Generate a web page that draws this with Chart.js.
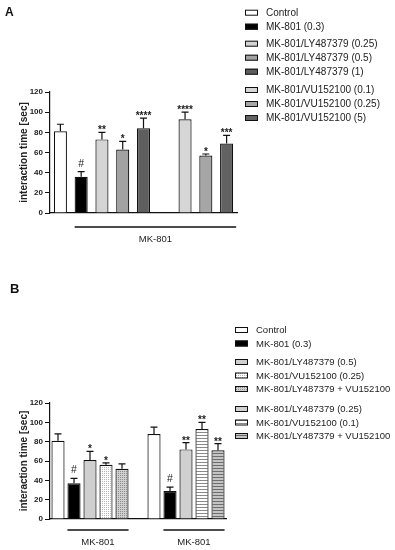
<!DOCTYPE html>
<html>
<head>
<meta charset="utf-8">
<script src="https://cdn.jsdelivr.net/npm/chart.js@4.4.1/dist/chart.umd.min.js"></script>
<style>
  html, body { margin: 0; padding: 0; background: #fff; }
  #wrap { position: relative; width: 395px; height: 550px; }
  canvas { position: absolute; left: 0; }
</style>
</head>
<body>
<div id="wrap">
  <canvas id="chartA" width="395" height="265" style="top:0"></canvas>
  <canvas id="chartB" width="395" height="285" style="top:265px"></canvas>
</div>
<script>
/* ===============================
   DATA
================================= */

// panel A
const catsA = ["Control", "MK-801 (0.3)", "MK-801/LY487379 (0.25)", "MK-801/LY487379 (0.5)",
  "MK-801/LY487379 (1)", " ", "MK-801/VU152100 (0.1)", "MK-801/VU152100 (0.25)", "MK-801/VU152100 (5)"];
const meansA = [81, 36, 73, 63, 84, null, 93, 57, 69];
const semA = [7, 5, 7, 8, 10, 0, 7, 1.5, 8];
const sigA = ["", "#", "**", "*", "****", "", "****", "*", "***"];
const legendA = [[0, 1], [2, 3, 4], [6, 7, 8]];
const groupsA = [{ label: "MK-801", from: 1, to: 8 }];

// panel B
const catsB = ["Control", "MK-801 (0.3)", "MK-801/LY487379 (0.5)", "MK-801/VU152100 (0.25)",
  "MK-801/LY487379 + VU152100", " ", "Control", "MK-801 (0.3)", "MK-801/LY487379 (0.25)",
  "MK-801/VU152100 (0.1)", "MK-801/LY487379 + VU152100"];
const meansB = [81, 37, 61, 56, 52, null, 88, 29, 72, 93, 71];
const semB = [7, 5, 9, 2, 5, 0, 7, 4, 7, 7, 7];
const sigB = ["", "#", "*", "*", "", "", "", "#", "**", "**", "**"];
const legendB = [[0, 1], [2, 3, 4], [8, 9, 10]];
const groupsB = [{ label: "MK-801", from: 1, to: 4 }, { label: "MK-801", from: 7, to: 10 }];

const yTicks = [0, 20, 40, 60, 80, 100, 120];

/* ===============================
   STYLE HELPERS
================================= */

const FONT = "'Liberation Sans', Arial, sans-serif";

function makePattern(bg, fg, kind) {
  const c = document.createElement("canvas");
  const g = c.getContext("2d");
  if (kind === "dots") {
    c.width = 2; c.height = 2;
    g.fillStyle = bg; g.fillRect(0, 0, 2, 2);
    g.fillStyle = fg; g.fillRect(0, 0, 1, 1);
  } else {
    c.width = 4; c.height = 3;
    g.fillStyle = bg; g.fillRect(0, 0, 4, 3);
    g.fillStyle = fg; g.fillRect(0, 2, 4, 1);
  }
  return g.createPattern(c, "repeat");
}

const fillsA = ["#ffffff", "#000000", "#d4d4d4", "#a2a2a2", "#5e5e5e", "#ffffff",
  "#d6d6d6", "#a6a6a6", "#626262"];

const fillsB = ["#ffffff", "#000000", "#cfcfcf",
  makePattern("#ffffff", "#b8b8b8", "dots"),
  makePattern("#d0d0d0", "#8c8c8c", "dots"),
  "#ffffff",
  "#ffffff", "#000000", "#d0d0d0",
  makePattern("#ffffff", "#8a8a8a", "lines"),
  makePattern("#c4c4c4", "#6e6e6e", "lines")];

/* ===============================
   EXTRAS PLUGIN (error bars, stars, legend, labels)
================================= */

const panelExtras = {
  id: "panelExtras",
  afterDatasetsDraw(chart, args, opts) {
    const { ctx, scales: { y } } = chart;
    const ds = chart.data.datasets[0];
    const meta = chart.getDatasetMeta(0);
    ctx.save();
    ctx.strokeStyle = "#111";
    ctx.lineWidth = 1.2;
    ctx.fillStyle = "#222";
    ctx.textAlign = "center";
    ds.data.forEach((v, i) => {
      if (v == null) return;
      const bx = meta.data[i].x;
      const yTop = y.getPixelForValue(v);
      const yCap = y.getPixelForValue(v + ds.sem[i]);
      ctx.beginPath();
      ctx.moveTo(bx, yTop);
      ctx.lineTo(bx, yCap);
      ctx.moveTo(bx - 3.5, yCap);
      ctx.lineTo(bx + 3.5, yCap);
      ctx.stroke();
      const s = ds.sig[i];
      if (s === "#") {
        ctx.font = "10.5px " + FONT;
        ctx.textBaseline = "alphabetic";
        ctx.fillText(s, bx, yCap - 5);
      } else if (s) {
        ctx.font = "bold 10px " + FONT;
        ctx.textBaseline = "alphabetic";
        ctx.fillText(s, bx, yCap + 1);
      }
    });
    ctx.restore();
  },
  afterDraw(chart, args, opts) {
    const { ctx, chartArea } = chart;
    const ds = chart.data.datasets[0];
    const meta = chart.getDatasetMeta(0);
    ctx.save();

    // panel letter
    ctx.fillStyle = "#111";
    ctx.font = "bold " + opts.letterSize + "px " + FONT;
    ctx.textAlign = "left";
    ctx.textBaseline = "alphabetic";
    ctx.fillText(opts.letter, opts.letterX, opts.letterY);

    // group lines under the axis
    ctx.strokeStyle = "#111";
    ctx.lineWidth = 1.3;
    ctx.fillStyle = "#222";
    ctx.font = "9.5px " + FONT;
    ctx.textAlign = "center";
    ctx.textBaseline = "middle";
    opts.groups.forEach(g => {
      const a = meta.data[g.from], b = meta.data[g.to];
      const x1 = a.x - a.width / 2;
      const x2 = b.x + b.width / 2 + opts.spanExtra;
      const ly = chartArea.bottom + opts.spanGap;
      ctx.beginPath();
      ctx.moveTo(x1, ly);
      ctx.lineTo(x2, ly);
      ctx.stroke();
      ctx.fillText(g.label, (x1 + x2) / 2, ly + 12.5);
    });

    // legend
    ctx.lineWidth = 1;
    ctx.textAlign = "left";
    ctx.font = opts.legendSize + "px " + FONT;
    opts.legend.forEach((grp, gi) => {
      grp.forEach((idx, k) => {
        const cy = opts.legendY[gi] + k * opts.legendRow;
        ctx.fillStyle = ds.backgroundColor[idx];
        ctx.fillRect(opts.legendX, cy - 3, 13, 6);
        ctx.strokeStyle = "#111";
        ctx.strokeRect(opts.legendX + 0.5, cy - 2.5, 12, 5);
        ctx.fillStyle = "#222";
        ctx.fillText(chart.data.labels[idx], opts.legendX + 21, cy + 0.5);
      });
    });
    ctx.restore();
  }
};

/* ===============================
   CHART BUILDER
================================= */

function buildPanel(canvasId, cats, means, sem, sig, fills, barPct, padding, extras) {
  return new Chart(document.getElementById(canvasId), {
    type: "bar",
    data: {
      labels: cats,
      datasets: [{
        data: means,
        sem: sem,
        sig: sig,
        backgroundColor: fills,
        borderColor: "#111",
        borderWidth: 1.2,
        barPercentage: barPct,
        categoryPercentage: 1
      }]
    },
    options: {
      responsive: false,
      animation: false,
      layout: { padding: padding },
      plugins: {
        legend: { display: false },
        tooltip: { enabled: false },
        panelExtras: extras
      },
      scales: {
        x: {
          grid: { display: false },
          ticks: { display: false },
          border: { display: true, color: "#111", width: 1.2 },
          afterFit(scale) { scale.height = 0; }
        },
        y: {
          min: 0,
          max: 120,
          afterBuildTicks(scale) { scale.ticks = yTicks.map(v => ({ value: v })); },
          ticks: {
            color: "#222",
            padding: 2,
            font: { family: FONT, size: 8, weight: "bold" }
          },
          grid: { drawOnChartArea: false, drawTicks: true, tickLength: 5, color: "#111" },
          border: { display: true, color: "#111", width: 1.2 },
          title: {
            display: true,
            text: "interaction time [sec]",
            color: "#222",
            font: { family: FONT, size: 10, weight: "bold" },
            padding: { top: 18, bottom: 0 }
          },
          afterFit(scale) { scale.width = 50; }
        }
      }
    },
    plugins: [panelExtras]
  });
}

buildPanel("chartA", catsA, meansA, semA, sigA, fillsA, 0.63,
  { top: 92, right: 158, bottom: 52, left: 0 },
  {
    letter: "A", letterX: 5, letterY: 16, letterSize: 12,
    groups: groupsA, spanGap: 14, spanExtra: 3,
    legend: legendA, legendX: 245, legendY: [12.7, 43.7, 90], legendRow: 14, legendSize: 10
  });

buildPanel("chartB", catsB, meansB, semB, sigB, fillsB, 0.82,
  { top: 138, right: 169, bottom: 31, left: 0 },
  {
    letter: "B", letterX: 10, letterY: 28, letterSize: 13,
    groups: groupsB, spanGap: 11, spanExtra: 0,
    legend: legendB, legendX: 235, legendY: [65, 97, 144], legendRow: 13.5, legendSize: 9.5
  });
</script>
</body>
</html>
